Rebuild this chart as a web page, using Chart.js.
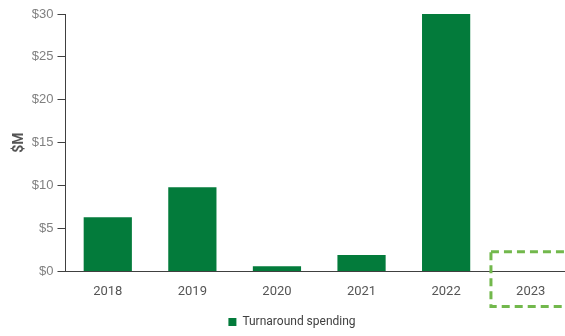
<!DOCTYPE html>
<html>
<head>
<meta charset="utf-8">
<script src="https://cdn.jsdelivr.net/npm/chart.js@4"></script>
<style>
  body { margin: 0; overflow: hidden; background: #fff; }
  #wrap { width: 573px; height: 336px; }
</style>
</head>
<body>
<div id="wrap"><canvas id="chartCanvas"></canvas></div>
<script>
// datos
var years = ["2018", "2019", "2020", "2021", "2022", "2023"];
var spending = [6.3, 9.8, 0.6, 1.9, 30, null];
var planned = [null, null, null, null, null, 2.3]; // caja punteada 2023
var yTicks = [0, 5, 10, 15, 20, 25, 30];

var ctx = document.getElementById("chartCanvas").getContext("2d");

// caja punteada para el año 2023
var dashedBox = {
  id: "dashedBox",
  afterDatasetsDraw: function (chart) {
    var x = chart.scales.x, y = chart.scales.y;
    var c = chart.ctx;
    planned.forEach(function (v, i) {
      if (v == null) return;
      var cx = x.getPixelForValue(i);
      var half = (x.getPixelForValue(1) - x.getPixelForValue(0)) * 0.47;
      var top = y.getPixelForValue(v);
      var bottom = y.getPixelForValue(0) + 35;
      c.save();
      c.strokeStyle = "#72b84c";
      c.lineWidth = 3;
      c.setLineDash([8, 5]);
      c.strokeRect(cx - half, top, half * 2, bottom - top);
      c.restore();
    });
  }
};

var chartConfig = {
  type: "bar",
  data: {
    labels: years,
    datasets: [
      {
        label: "Turnaround spending",
        data: spending,
        backgroundColor: "#037b3b",
        borderWidth: 0,
        barPercentage: 0.57,
        categoryPercentage: 1
      }
    ]
  },
  options: {
    responsive: true,
    maintainAspectRatio: false,
    animation: false,
    layout: { padding: { top: 14, right: 0, bottom: -2, left: 11 } },
    plugins: {
      legend: {
        position: "bottom",
        labels: {
          boxWidth: 8,
          boxHeight: 8,
          padding: 3,
          color: "#404040",
          font: { family: "Roboto", size: 12 }
        }
      },
      tooltip: { enabled: false }
    },
    scales: {
      x: {
        grid: { display: false, drawTicks: false },
        border: { color: "#404040", width: 1 },
        ticks: {
          color: "#555",
          padding: 13,
          font: { family: "Roboto", size: 13 }
        }
      },
      y: {
        min: 0,
        max: 30,
        afterBuildTicks: function (axis) {
          axis.ticks = yTicks.map(function (v) { return { value: v }; });
        },
        grid: { display: true, drawOnChartArea: false, drawTicks: true, tickLength: 8, tickColor: "#404040" },
        border: { color: "#404040", width: 1 },
        ticks: {
          color: "#808080",
          padding: 4,
          font: { family: "Liberation Sans", size: 13 },
          callback: function (v) { return "$" + v; }
        },
        title: {
          display: true,
          text: "$M",
          color: "#555",
          padding: { top: 0, bottom: 0 },
          font: { family: "Roboto", size: 14, weight: "bold" }
        }
      }
    }
  },
  plugins: [dashedBox]
};

var myChart = new Chart(ctx, chartConfig);
</script>
</body>
</html>
